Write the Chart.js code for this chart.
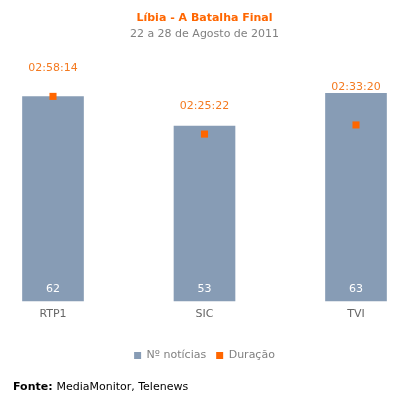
<!DOCTYPE html>
<html>
<head>
<meta charset="utf-8">
<script src="https://cdn.jsdelivr.net/npm/chart.js@4"></script>
<style>
  html, body {margin: 0; padding: 0; background: #fff;}
  #wrap {width: 405px; height: 404px;}
</style>
</head>
<body>
<div id="wrap"><canvas id="chart"></canvas></div>
<script>
const channels = ['RTP1', 'SIC', 'TVI'];
const newsCount = [62, 53, 63];
const durations = ['02:58:14', '02:25:22', '02:33:20'];

// hh:mm:ss -> seconds, so the points sit on a real scale
const toSeconds = (s) => s.split(':').reduce((acc, p) => acc * 60 + Number(p), 0);
const durationSecs = durations.map(toSeconds);

const barColor = '#879cb5';
const orange = '#ff6600';
const font = "'DejaVu Sans', Verdana, sans-serif";

// white count inside each bar + orange duration above each point
const labelsPlugin = {
    id: 'labels',
    afterDatasetsDraw(chart) {
        const ctx = chart.ctx;
        const bars = chart.getDatasetMeta(0).data;
        const points = chart.getDatasetMeta(1).data;
        ctx.save();
        ctx.font = '11px ' + font;
        ctx.textAlign = 'center';
        ctx.textBaseline = 'middle';
        bars.forEach((bar, i) => {
            ctx.fillStyle = '#ffffff';
            ctx.fillText(newsCount[i], bar.x, bar.base - 12);
            const p = points[i];
            // keep the label clear of the bar top
            const y = Math.min(p.y - 28, bar.y - 6);
            ctx.fillStyle = '#f47a20';
            ctx.fillText(durations[i], p.x, y);
        });
        ctx.restore();
    }
};

const footerPlugin = {
    id: 'footer',
    afterDraw(chart) {
        const ctx = chart.ctx;
        ctx.save();
        ctx.textBaseline = 'middle';
        ctx.textAlign = 'left';
        ctx.fillStyle = '#000000';
        ctx.font = 'bold 11px ' + font;
        ctx.fillText('Fonte:', 13, 387);
        const w = ctx.measureText('Fonte: ').width;
        ctx.font = '11px ' + font;
        ctx.fillText('MediaMonitor, Telenews', 13 + w, 387);
        ctx.restore();
    }
};

new Chart(document.getElementById('chart'), {
    data: {
        labels: channels,
        datasets: [{
            type: 'bar',
            label: 'Nº notícias',
            data: newsCount,
            backgroundColor: barColor,
            barThickness: 61,
            yAxisID: 'y',
            clip: false,
            order: 2
        }, {
            type: 'line',
            label: 'Duração',
            data: durationSecs,
            showLine: false,
            borderWidth: 0,
            pointStyle: 'rect',
            pointRadius: 5,
            pointHoverRadius: 5,
            pointBorderWidth: 0,
            pointBackgroundColor: orange,
            backgroundColor: orange,
            borderColor: orange,
            yAxisID: 'y2',
            clip: false,
            order: 1
        }]
    },
    options: {
        responsive: true,
        maintainAspectRatio: false,
        animation: false,
        events: [],
        layout: {padding: {left: 53, right: 49, bottom: 33}},
        plugins: {
            title: {
                display: true,
                text: 'Líbia - A Batalha Final',
                color: orange,
                font: {family: font, size: 11, weight: 'bold'},
                padding: {top: 12, bottom: 2}
            },
            subtitle: {
                display: true,
                text: '22 a 28 de Agosto de 2011',
                color: '#808080',
                font: {family: font, size: 11},
                padding: {top: 0, bottom: 10}
            },
            legend: {
                position: 'bottom',
                labels: {
                    boxWidth: 7,
                    boxHeight: 7,
                    color: '#808080',
                    font: {family: font, size: 11},
                    padding: 10,
                    sort: (a, b) => a.datasetIndex - b.datasetIndex
                }
            },
            tooltip: {enabled: false}
        },
        scales: {
            x: {
                offset: false,
                grid: {display: false, drawTicks: false},
                border: {display: false},
                ticks: {color: '#666666', font: {family: font, size: 11}, padding: 7},
                afterFit: (scale) => { scale.height += 12; }
            },
            y: {display: false, min: 0, max: 76},
            y2: {display: false, min: 0, max: 13100}
        }
    },
    plugins: [labelsPlugin, footerPlugin]
});
</script>
</body>
</html>
